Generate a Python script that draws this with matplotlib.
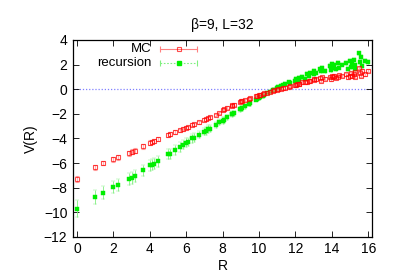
import matplotlib
matplotlib.use("Agg")
import matplotlib.pyplot as plt

plt.rcParams['font.family'] = ['Liberation Sans', 'DejaVu Sans']

# lattice distances R
R = [0, 1, 1.41, 2, 2.24, 2.83, 3, 3.16, 3.61, 4, 4.12, 4.24, 4.47, 5, 5.10,
     5.39, 5.66, 5.83, 6, 6.08, 6.32, 6.40, 6.71, 7, 7.07, 7.21, 7.28, 7.62,
     7.81, 8, 8.06, 8.25, 8.49, 8.54, 8.60, 8.94, 9, 9.06, 9.22, 9.43, 9.49,
     9.85, 9.90, 10, 10.05, 10.20, 10.30, 10.44, 10.63, 10.77, 10.82, 11,
     11.05, 11.18, 11.31, 11.40, 11.66, 11.70, 12, 12.04, 12.08, 12.17, 12.21,
     12.37, 12.53, 12.65, 12.73, 12.81, 13, 13.04, 13.15, 13.34, 13.42, 13.45,
     13.60, 13.89, 13.93, 14, 14.04, 14.14, 14.21, 14.32, 14.42, 14.56, 14.76,
     14.87, 15, 15.03, 15.13, 15.23, 15.26, 15.30, 15.52, 15.56, 15.62, 15.65,
     15.81, 16]

V_mc = [-7.3, -6.35, -6.0, -5.7, -5.55, -5.2, -5.1, -5.0, -4.65, -4.35, -4.3,
        -4.2, -4.05, -3.7, -3.65, -3.5, -3.35, -3.25, -3.15, -3.1, -2.9, -2.85,
        -2.7, -2.5, -2.45, -2.35, -2.3, -2.1, -1.95, -1.7, -1.65, -1.5, -1.35,
        -1.3, -1.25, -1.05, -1.0, -0.98, -0.9, -0.78, -0.75, -0.55, -0.52,
        -0.5, -0.45, -0.4, -0.35, -0.3, -0.22, -0.15, -0.1, -0.05, -0.02, 0.05,
        0.1, 0.12, 0.2, 0.25, 0.3, 0.35, 0.4, 0.45, 0.4, 0.55, 0.6, 0.55, 0.7,
        0.65, 0.85, 0.75, 0.8, 0.9, 0.7, 0.95, 0.85, 1.0, 0.8, 1.05, 0.95, 1.1,
        0.9, 1.0, 1.15, 1.05, 1.2, 0.95, 1.1, 1.3, 1.05, 1.2, 1.4, 1.0, 1.7,
        1.3, 1.1, 1.5, 1.2, 1.5]
E_mc = [0.25, 0.2, 0.2, 0.2, 0.2, 0.2, 0.2, 0.2, 0.18, 0.18, 0.18, 0.18, 0.15,
        0.15, 0.15, 0.15, 0.15, 0.15, 0.12, 0.12, 0.12, 0.12, 0.12, 0.12, 0.1,
        0.1, 0.1, 0.1, 0.1, 0.1, 0.1, 0.1, 0.1, 0.1, 0.1, 0.1, 0.1, 0.1, 0.1,
        0.1, 0.1, 0.1, 0.1, 0.1, 0.1, 0.1, 0.1, 0.1, 0.1, 0.1, 0.1, 0.1, 0.1,
        0.1, 0.1, 0.1, 0.1, 0.1, 0.1, 0.1, 0.1, 0.1, 0.1, 0.1, 0.1, 0.1, 0.1,
        0.1, 0.1, 0.1, 0.1, 0.1, 0.1, 0.1, 0.1, 0.1, 0.1, 0.1, 0.1, 0.1, 0.1,
        0.1, 0.1, 0.1, 0.1, 0.1, 0.1, 0.1, 0.1, 0.1, 0.1, 0.1, 0.1, 0.1, 0.1,
        0.1, 0.1, 0.1]

V_rec = [-9.7, -8.75, -8.4, -7.95, -7.8, -7.3, -7.2, -7.05, -6.6, -6.2, -6.15,
         -6.05, -5.85, -5.3, -5.25, -4.95, -4.7, -4.5, -4.35, -4.3, -4.0, -3.95,
         -3.7, -3.45, -3.4, -3.25, -3.2, -2.9, -2.7, -2.55, -2.5, -2.3, -2.05,
         -2.0, -1.95, -1.65, -1.6, -1.55, -1.4, -1.2, -1.15, -0.85, -0.8, -0.7,
         -0.65, -0.55, -0.45, -0.35, -0.2, -0.1, -0.05, 0.1, 0.15, 0.25, 0.3,
         0.4, 0.55, 0.5, 0.7, 0.8, 0.6, 0.9, 0.75, 1.0, 0.85, 1.25, 1.05, 1.3,
         1.2, 1.5, 1.35, 1.6, 1.45, 1.7, 1.5, 1.9, 1.55, 2.05, 1.7, 2.0, 1.6,
         2.1, 1.75, 2.0, 2.1, 1.65, 2.3, 1.8, 2.1, 2.4, 1.6, 2.0, 2.9, 2.2, 2.6,
         1.9, 2.3, 2.2]
E_rec = [0.7, 0.55, 0.55, 0.5, 0.5, 0.5, 0.5, 0.5, 0.45, 0.45, 0.45, 0.45,
         0.45, 0.4, 0.4, 0.4, 0.4, 0.35, 0.35, 0.35, 0.35, 0.35, 0.3, 0.3, 0.3,
         0.3, 0.3, 0.25, 0.25, 0.25, 0.25, 0.2, 0.2, 0.2, 0.2, 0.2, 0.2, 0.2,
         0.2, 0.2, 0.2, 0.15, 0.15, 0.15, 0.15, 0.15, 0.15, 0.15, 0.15, 0.15,
         0.15, 0.15, 0.15, 0.15, 0.15, 0.15, 0.15, 0.15, 0.15, 0.15, 0.15, 0.15,
         0.15, 0.15, 0.15, 0.15, 0.15, 0.15, 0.15, 0.15, 0.15, 0.15, 0.15, 0.15,
         0.15, 0.15, 0.15, 0.15, 0.15, 0.15, 0.15, 0.15, 0.15, 0.15, 0.15, 0.15,
         0.15, 0.15, 0.15, 0.15, 0.15, 0.15, 0.15, 0.15, 0.15, 0.15, 0.15, 0.15]

xticks = [0, 2, 4, 6, 8, 10, 12, 14, 16]
yticks = [-12, -10, -8, -6, -4, -2, 0, 2, 4]

red = '#ff0000'
green = '#00ee00'

fig = plt.figure(figsize=(3.99, 2.79), dpi=100)
ax = fig.add_axes([0.183, 0.151, 0.749, 0.706])

ax.axhline(0, color='#8080ff', lw=0.9, ls=(0, (1, 1.5)), zorder=1)

ax.errorbar(R, V_mc, yerr=E_mc, fmt='s', ms=3.4, mfc='none', mec=red,
            mew=0.8, alpha=0.7, ecolor='#ff8080', elinewidth=0.6,
            capsize=1.2, capthick=0.6, zorder=3)
ax.errorbar(R, V_rec, yerr=E_rec, fmt='s', ms=3.5, mfc=green, mec=green,
            mew=0.3, ecolor='#80f080', elinewidth=0.6, capsize=1.2,
            capthick=0.6, zorder=2)

# legend drawn gnuplot-style
tr = ax.transAxes
ax.text(0.262, 0.953, 'MC', transform=tr, ha='right', va='center',
        fontsize=9.5)
ax.text(0.262, 0.882, 'recursion', transform=tr, ha='right', va='center',
        fontsize=9.5)
ax.plot([0.291, 0.415], [0.953, 0.953], transform=tr, color='#ff8080', lw=0.8)
ax.plot([0.291, 0.415], [0.953, 0.953], transform=tr, ls='none', marker='|',
        ms=4, color='#ff8080', mew=0.8)
ax.plot([0.353], [0.953], transform=tr, marker='s', ms=3.4, mfc='none',
        mec=red, mew=0.8, alpha=0.7)
ax.plot([0.291, 0.415], [0.882, 0.882], transform=tr, color='#80f080', lw=0.8,
        ls=(0, (1.5, 1.5)))
ax.plot([0.291, 0.415], [0.882, 0.882], transform=tr, ls='none', marker='|',
        ms=4, color='#80f080', mew=0.8)
ax.plot([0.353], [0.882], transform=tr, marker='s', ms=3.5, color=green)

ax.set_xlim(-0.22, 16.2)
ax.set_ylim(-12, 4)
ax.set_xticks(xticks)
ax.set_yticks(yticks)
ax.tick_params(direction='in', top=True, right=True, length=4, width=0.6,
               labelsize=10, pad=4)
for s in ax.spines.values():
    s.set_linewidth(0.9)

ax.set_title('β=9, L=32', fontsize=10, pad=8)
ax.set_xlabel('R', fontsize=10, labelpad=2)
ax.set_ylabel('V(R)', fontsize=10, labelpad=4)

fig.savefig('out.png', dpi=100)
